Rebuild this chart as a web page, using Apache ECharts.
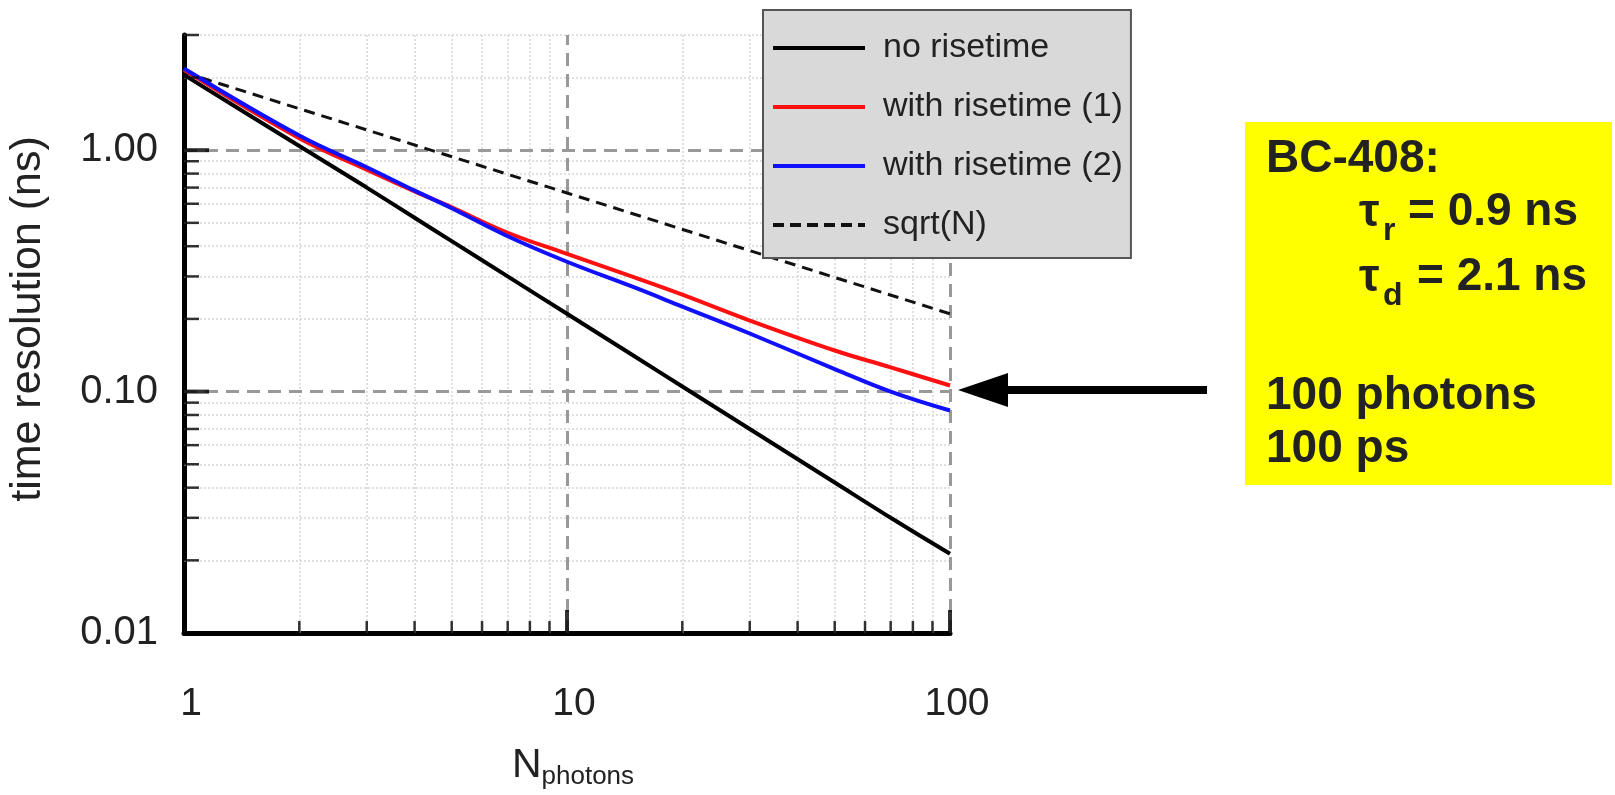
<!DOCTYPE html>
<html><head><meta charset="utf-8">
<script src="https://cdn.jsdelivr.net/npm/echarts@6/dist/echarts.min.js"></script>
<style>html,body{margin:0;padding:0;background:#fff}#c{width:1615px;height:795px}</style>
</head><body><div id="c"></div>
<script>
// ---- data ----
const nPhotons = [1, 2, 3, 4, 5, 7, 10, 15, 20, 30, 50, 70, 100];
const noRisetime = [2.05, 1.04, 0.70, 0.525, 0.42, 0.30, 0.21, 0.14, 0.105, 0.07, 0.042, 0.03, 0.0213];
const withRise1 = [2.15, 1.12, 0.83, 0.675, 0.58, 0.455, 0.372, 0.297, 0.252, 0.197, 0.148, 0.126, 0.106];
const withRise2 = [2.18, 1.15, 0.85, 0.68, 0.575, 0.44, 0.345, 0.27, 0.225, 0.174, 0.124, 0.100, 0.0835];
const sqrtN = [1, 10, 100];
const sqrtVals = [2.1, 0.665, 0.21];
const seriesNames = ['no risetime', 'with risetime (1)', 'with risetime (2)', 'sqrt(N)'];
const xMajor = [10, 100];
const xMinor = [2, 3, 4, 5, 6, 7, 8, 9, 20, 30, 40, 50, 60, 70, 80, 90];
const yMajor = [0.1, 1];
const yMinor = [0.02, 0.03, 0.04, 0.05, 0.06, 0.07, 0.08, 0.09, 0.2, 0.3, 0.4, 0.5, 0.6, 0.7, 0.8, 0.9, 2, 3];
const boxLines = ['BC-408:', '100 photons', '100 ps'];

const FONT = '"Liberation Sans", Arial, sans-serif';
const pair = (xs, ys) => xs.map((x, i) => [x, ys[i]]);
const isPow10 = v => Math.abs(Math.log10(v) - Math.round(Math.log10(v))) < 1e-6;
const SOLID_ICON = 'path://M0,0H92V4H0Z';
const DASH_ICON = 'path://M0,0h11v4h-11z M17,0h11v4h-11z M34,0h11v4h-11z M51,0h11v4h-11z M68,0h11v4h-11z M85,0h7v4h-7z';

const chart = echarts.init(document.getElementById('c'), null, {renderer: 'canvas'});
const gridLines = {
  z: 1, zlevel: 0,
  symbol: ['none', 'none'], silent: true, animation: false, label: {show: false},
  data: [
    ...xMinor.map(v => ({xAxis: v, lineStyle: {color: '#d6d6d6', width: 1.5, type: [2, 2]}})),
    ...yMinor.map(v => ({yAxis: v, lineStyle: {color: '#d6d6d6', width: 1.5, type: [2, 2]}})),
    ...xMajor.map(v => ({xAxis: v, lineStyle: {color: '#999', width: 3, type: [13, 8]}})),
    ...yMajor.map(v => ({yAxis: v, lineStyle: {color: '#999', width: 3, type: [13, 8]}}))
  ]
};
const tickSeries = (data, size, offset) => ({
  type: 'scatter', data, symbol: 'rect', symbolSize: size, symbolOffset: offset,
  itemStyle: {color: '#000'}, silent: true, clip: false, z: 5, animation: false
});

chart.setOption({
  animation: false,
  backgroundColor: '#fff',
  grid: {left: 184, right: 665, top: 35, bottom: 159, containLabel: false},
  xAxis: {
    type: 'log', logBase: 10, min: 1, max: 100,
    axisLine: {show: true, onZero: false, lineStyle: {color: '#000', width: 5}},
    axisTick: {show: false}, splitLine: {show: false},
    axisLabel: {
      fontSize: 39, color: '#222', fontFamily: FONT, margin: 52, padding: [0, 0, 0, 14],
      formatter: v => isPow10(v) ? String(Math.round(v)) : ''
    },
    name: '{n|N}{s|photons}', nameLocation: 'middle', nameGap: 112,
    nameTextStyle: {
      color: '#222', padding: [0, 0, 0, 12],
      rich: {
        n: {fontSize: 41, fontFamily: FONT, color: '#222', verticalAlign: 'bottom'},
        s: {fontSize: 26, fontFamily: FONT, color: '#222', verticalAlign: 'bottom', padding: [0, 0, -4, 0]}
      }
    }
  },
  yAxis: {
    type: 'log', logBase: 10, min: 0.01, max: 3,
    axisLine: {show: true, onZero: false, lineStyle: {color: '#000', width: 5}},
    axisTick: {show: false}, splitLine: {show: false},
    axisLabel: {
      fontSize: 40, color: '#222', fontFamily: FONT, margin: 26,
      formatter: v => isPow10(v) ? v.toFixed(2) : ''
    },
    name: 'time resolution (ns)', nameLocation: 'middle', nameGap: 134, nameRotate: 90,
    nameTextStyle: {fontSize: 43, color: '#222', fontFamily: FONT, padding: [0, 0, 0, 30]}
  },
  legend: {
    data: [
      {name: seriesNames[0], icon: SOLID_ICON},
      {name: seriesNames[1], icon: SOLID_ICON},
      {name: seriesNames[2], icon: SOLID_ICON},
      {name: seriesNames[3], icon: DASH_ICON}
    ],
    orient: 'vertical', left: 763, top: 10,
    padding: [21, 8, 16, 10], itemGap: 25,
    itemWidth: 92, itemHeight: 4,
    backgroundColor: '#d9d9d9', borderColor: '#555', borderWidth: 2, borderRadius: 0,
    textStyle: {fontSize: 34, color: '#222', fontFamily: FONT, padding: [0, 0, 0, 13]},
    selectedMode: false
  },
  series: [
    {type: 'line', name: '__grid', data: [[1, 0.01]], symbol: 'none', lineStyle: {width: 0}, silent: true, z: 1, markLine: gridLines},
    {type: 'line', name: 'sqrt(N)', data: pair(sqrtN, sqrtVals), symbol: 'none', z: 3,
     lineStyle: {color: '#111', width: 3, type: [11, 7]}, itemStyle: {color: '#111'}},
    {type: 'line', name: 'no risetime', data: pair(nPhotons, noRisetime), symbol: 'none', z: 3, smooth: 0.3,
     lineStyle: {color: '#000', width: 4}, itemStyle: {color: '#000'}},
    {type: 'line', name: 'with risetime (1)', data: pair(nPhotons, withRise1), symbol: 'none', z: 3, smooth: 0.4,
     lineStyle: {color: '#ff1010', width: 4}, itemStyle: {color: '#ff1010'}},
    {type: 'line', name: 'with risetime (2)', data: pair(nPhotons, withRise2), symbol: 'none', z: 3, smooth: 0.4,
     lineStyle: {color: '#1010ff', width: 4}, itemStyle: {color: '#1010ff'}},
    tickSeries(yMinor.map(v => [1, v]), [15, 2.5], [7.5, 0]),
    tickSeries(yMajor.map(v => [1, v]), [25, 4], [12.5, 0]),
    tickSeries(xMinor.map(v => [v, 0.01]), [2.5, 12], [0, -6]),
    tickSeries(xMajor.map(v => [v, 0.01]), [4, 23], [0, -11.5])
  ],
  graphic: [
    {type: 'rect', shape: {x: 1245, y: 122, width: 367, height: 363}, style: {fill: '#ffff00'}, silent: true},
    {type: 'text', x: 1266, y: 159, style: {text: boxLines[0], font: 'bold 46px ' + FONT, fill: '#222', verticalAlign: 'middle'}},
    {type: 'text', x: 1359, y: 213, style: {text: 'τ', font: 'bold 46px ' + FONT, fill: '#222', verticalAlign: 'middle'}},
    {type: 'text', x: 1383, y: 231, style: {text: 'r', font: 'bold 32px ' + FONT, fill: '#222', verticalAlign: 'middle'}},
    {type: 'text', x: 1408, y: 212, style: {text: '= 0.9 ns', font: 'bold 46px ' + FONT, fill: '#222', verticalAlign: 'middle'}},
    {type: 'text', x: 1359, y: 278, style: {text: 'τ', font: 'bold 46px ' + FONT, fill: '#222', verticalAlign: 'middle'}},
    {type: 'text', x: 1383, y: 296, style: {text: 'd', font: 'bold 32px ' + FONT, fill: '#222', verticalAlign: 'middle'}},
    {type: 'text', x: 1417, y: 277, style: {text: '= 2.1 ns', font: 'bold 46px ' + FONT, fill: '#222', verticalAlign: 'middle'}},
    {type: 'text', x: 1266, y: 396, style: {text: boxLines[1], font: 'bold 46px ' + FONT, fill: '#222', verticalAlign: 'middle'}},
    {type: 'text', x: 1266, y: 449, style: {text: boxLines[2], font: 'bold 46px ' + FONT, fill: '#222', verticalAlign: 'middle'}},
    {type: 'polygon', shape: {points: [[958, 390], [1008, 373], [1008, 407]]}, style: {fill: '#000'}},
    {type: 'rect', shape: {x: 1004, y: 386, width: 203, height: 8}, style: {fill: '#000'}}
  ]
});
</script>
</body></html>
